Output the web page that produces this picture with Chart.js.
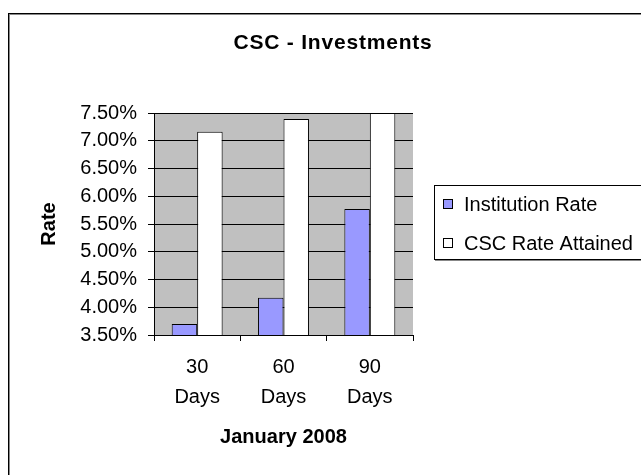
<!DOCTYPE html>
<html>
<head>
<meta charset="utf-8">
<script src="https://cdn.jsdelivr.net/npm/chart.js@4/dist/chart.umd.min.js"></script>
<style>
  body { margin: 0; background: #fff; }
  #wrap { width: 641px; height: 475px; }
</style>
</head>
<body>
<div id="wrap"><canvas id="grafico" width="641" height="475"></canvas></div>
<script>
const categorias = [["30", "Days"], ["60", "Days"], ["90", "Days"]];
const institutionRate = [3.70, 4.17, 5.77];
const cscRate = [7.16, 7.39, 7.50];
const seriesNames = ["Institution Rate", "CSC Rate Attained"];
const chartTitle = "CSC - Investments";
const yTitle = "Rate";
const xTitle = "January 2008";

const fonte = "'Liberation Sans', Arial, sans-serif";

// fundo cinza, moldura, titulo e legenda
const moldura = {
    id: "moldura",
    beforeDraw(chart) {
        const ctx = chart.ctx;
        const a = chart.chartArea;
        ctx.save();
        ctx.fillStyle = "#fff";
        ctx.fillRect(0, 0, chart.width, chart.height);
        ctx.strokeStyle = "#000";
        ctx.lineWidth = 1;
        ctx.strokeRect(8.5, 13.5, 800, 600);
        ctx.strokeStyle = "#888";
        ctx.strokeRect(9.5, 14.5, 800, 600);
        ctx.fillStyle = "#C0C0C0";
        ctx.fillRect(a.left, a.top, a.right - a.left, a.bottom - a.top);
        ctx.restore();
    },
    afterDraw(chart) {
        const ctx = chart.ctx;
        ctx.save();
        // titulo
        ctx.fillStyle = "#000";
        ctx.font = "bold 21px " + fonte;
        ctx.textAlign = "center";
        ctx.textBaseline = "middle";
        if ("letterSpacing" in ctx) ctx.letterSpacing = "0.8px";
        ctx.fillText(chartTitle, 333, 43);
        if ("letterSpacing" in ctx) ctx.letterSpacing = "0px";
        // legenda
        ctx.strokeStyle = "#888";
        ctx.strokeRect(435.5, 186.5, 400, 74);
        ctx.strokeStyle = "#000";
        ctx.strokeRect(434.5, 185.5, 400, 74);
        ctx.fillStyle = "#fff";
        ctx.fillRect(435, 186, 300, 73);
        const linhas = [204, 243];
        ctx.font = "20px " + fonte;
        ctx.textAlign = "left";
        chart.data.datasets.forEach((ds, i) => {
            const y = linhas[i];
            ctx.fillStyle = ds.backgroundColor;
            ctx.fillRect(443, y - 5, 10, 10);
            ctx.strokeStyle = "#000";
            ctx.strokeRect(443.5, y - 4.5, 9, 9);
            ctx.fillStyle = "#000";
            ctx.fillText(ds.label, 464, y + 1);
        });
        ctx.restore();
    }
};

new Chart(document.getElementById("grafico"), {
    type: "bar",
    data: {
        labels: categorias,
        datasets: [
            {
                label: seriesNames[0],
                data: institutionRate,
                backgroundColor: "#9999FF",
                borderColor: "#000",
                borderWidth: 1,
                categoryPercentage: 0.59,
                barPercentage: 1
            },
            {
                label: seriesNames[1],
                data: cscRate,
                backgroundColor: "#FFFFFF",
                borderColor: "#000",
                borderWidth: 1,
                categoryPercentage: 0.59,
                barPercentage: 1
            }
        ]
    },
    options: {
        responsive: false,
        animation: false,
        layout: { padding: { top: 113, left: 0, right: 228, bottom: 0 } },
        plugins: {
            legend: { display: false },
            title: { display: false },
            tooltip: { enabled: false }
        },
        scales: {
            x: {
                afterFit(scale) { scale.height = 140; },
                grid: {
                    offset: true,
                    drawOnChartArea: false,
                    drawTicks: true,
                    tickLength: 6,
                    color: "#000"
                },
                border: { color: "#000" },
                ticks: {
                    color: "#000",
                    padding: 11,
                    font: { family: fonte, size: 20, lineHeight: 1.5 },
                    maxRotation: 0
                },
                title: {
                    display: true,
                    text: xTitle,
                    color: "#000",
                    font: { family: fonte, size: 20, weight: "bold" },
                    padding: { top: 0, bottom: 26 }
                }
            },
            y: {
                min: 3.5,
                max: 7.5,
                afterFit(scale) { scale.width = 154; },
                grid: {
                    color: "#000",
                    drawTicks: true,
                    tickLength: 6,
                    tickColor: "#000"
                },
                border: { color: "#000" },
                ticks: {
                    stepSize: 0.5,
                    color: "#000",
                    padding: 11,
                    font: { family: fonte, size: 20 },
                    callback: (v) => v.toFixed(2) + "%"
                },
                title: {
                    display: true,
                    text: yTitle,
                    color: "#000",
                    font: { family: fonte, size: 20, weight: "bold" },
                    padding: { top: 37, bottom: 0 }
                }
            }
        }
    },
    plugins: [moldura]
});
</script>
</body>
</html>
